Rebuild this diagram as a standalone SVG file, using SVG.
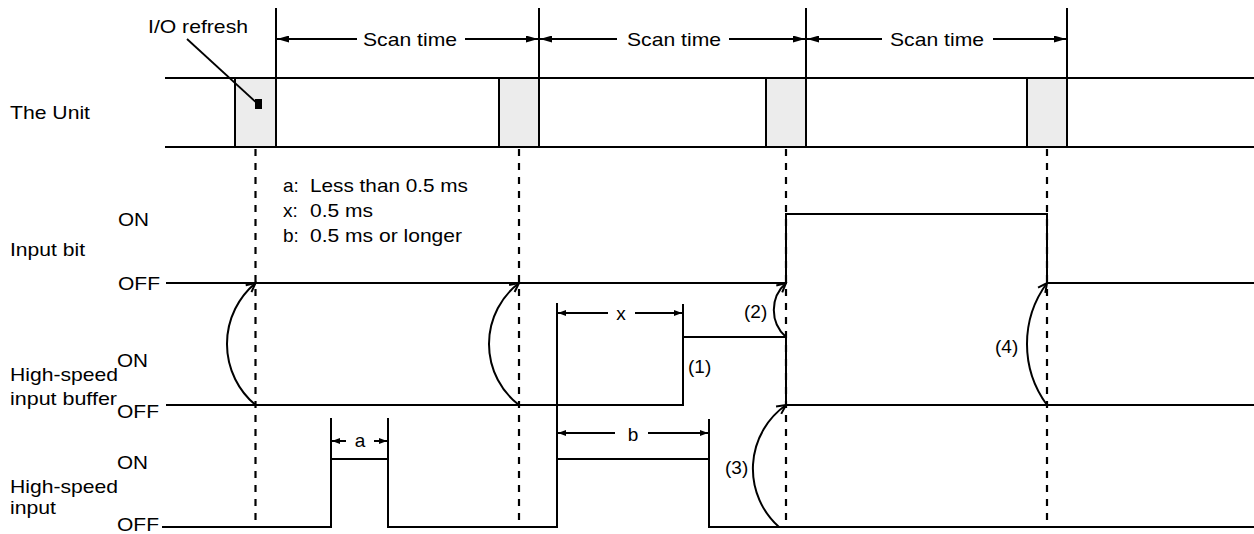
<svg xmlns="http://www.w3.org/2000/svg" width="1254" height="534" viewBox="0 0 1254 534">
<style>
.ln{stroke:#000;stroke-width:2;fill:none}
.thin{stroke:#000;stroke-width:1.8;fill:none}
.dash{stroke:#000;stroke-width:2.2;stroke-dasharray:7 7;fill:none}
.box{fill:#ececec;stroke:#000;stroke-width:2}
text{font-family:"Liberation Sans",Arial,Helvetica,sans-serif;font-size:19px;fill:#000}
.m{text-anchor:middle}
</style>
<defs>
<marker id="fa" viewBox="0 0 12 7" refX="12" refY="3.5" markerWidth="12" markerHeight="7" markerUnits="userSpaceOnUse" orient="auto-start-reverse"><path d="M0,0 L12,3.5 L0,7 z" fill="#000"/></marker>
<marker id="fs" viewBox="0 0 8 6" refX="8" refY="3" markerWidth="8" markerHeight="6" markerUnits="userSpaceOnUse" orient="auto-start-reverse"><path d="M0,0 L8,3 L0,6 z" fill="#000"/></marker>
<marker id="oa" viewBox="-11 -6 13 12" refX="0" refY="0" markerWidth="13" markerHeight="12" markerUnits="userSpaceOnUse" orient="auto"><path d="M-9,-4.5 L0,0 L-9,4.5" fill="none" stroke="#000" stroke-width="2"/></marker>
</defs>

<g id="unit-row">
<line class="ln" x1="165" y1="78" x2="1254" y2="78"/>
<line class="ln" x1="165" y1="147" x2="1254" y2="147"/>
<rect class="box" x="235" y="78" width="41" height="69"/>
<rect class="box" x="499" y="78" width="40" height="69"/>
<rect class="box" x="766" y="78" width="40" height="69"/>
<rect class="box" x="1027" y="78" width="40" height="69"/>
<line class="ln" x1="276" y1="8" x2="276" y2="147"/>
<line class="ln" x1="539" y1="8" x2="539" y2="147"/>
<line class="ln" x1="806" y1="8" x2="806" y2="147"/>
<line class="ln" x1="1067" y1="8" x2="1067" y2="147"/>
<text x="10" y="119" textLength="80" lengthAdjust="spacingAndGlyphs">The Unit</text>
</g>

<g id="io-refresh-label">
<text x="148" y="33" textLength="100" lengthAdjust="spacingAndGlyphs">I/O refresh</text>
<line class="thin" x1="187" y1="39" x2="258" y2="104"/>
<rect x="255" y="99" width="7" height="10" fill="#000"/>
</g>

<g id="scan-times">
<line class="ln" x1="277" y1="39" x2="357" y2="39" marker-start="url(#fa)"/>
<line class="ln" x1="465" y1="39" x2="538" y2="39" marker-end="url(#fa)"/>
<text x="363" y="46" textLength="94" lengthAdjust="spacingAndGlyphs">Scan time</text>
<line class="ln" x1="540" y1="39" x2="617" y2="39" marker-start="url(#fa)"/>
<line class="ln" x1="729" y1="39" x2="805" y2="39" marker-end="url(#fa)"/>
<text x="627" y="46" textLength="94" lengthAdjust="spacingAndGlyphs">Scan time</text>
<line class="ln" x1="807" y1="39" x2="882" y2="39" marker-start="url(#fa)"/>
<line class="ln" x1="993" y1="39" x2="1066" y2="39" marker-end="url(#fa)"/>
<text x="890" y="46" textLength="94" lengthAdjust="spacingAndGlyphs">Scan time</text>
</g>

<g id="refresh-dashes">
<line class="dash" x1="255.5" y1="149" x2="255.5" y2="527"/>
<line class="dash" x1="519" y1="149" x2="519" y2="527"/>
<line class="dash" x1="786" y1="149" x2="786" y2="527"/>
<line class="dash" x1="1047" y1="149" x2="1047" y2="527"/>
</g>

<g id="legend">
<text y="192"><tspan x="283">a:</tspan><tspan x="310" textLength="158" lengthAdjust="spacingAndGlyphs">Less than 0.5 ms</tspan></text>
<text y="217"><tspan x="283">x:</tspan><tspan x="310" textLength="63" lengthAdjust="spacingAndGlyphs">0.5 ms</tspan></text>
<text y="242"><tspan x="283">b:</tspan><tspan x="310" textLength="152" lengthAdjust="spacingAndGlyphs">0.5 ms or longer</tspan></text>
</g>

<g id="input-bit">
<text x="118" y="226" textLength="31" lengthAdjust="spacingAndGlyphs">ON</text>
<text x="10" y="256" textLength="75" lengthAdjust="spacingAndGlyphs">Input bit</text>
<text x="118" y="290" textLength="42" lengthAdjust="spacingAndGlyphs">OFF</text>
<polyline class="ln" points="166,283 786,283 786,214 1047,214 1047,283 1254,283"/>
</g>

<g id="input-buffer">
<text x="117" y="367" textLength="31" lengthAdjust="spacingAndGlyphs">ON</text>
<text x="10" y="381" textLength="108" lengthAdjust="spacingAndGlyphs">High-speed</text>
<text x="10" y="405" textLength="107" lengthAdjust="spacingAndGlyphs">input buffer</text>
<text x="117" y="418" textLength="42" lengthAdjust="spacingAndGlyphs">OFF</text>
<polyline class="ln" points="166,405 683,405 683,337 786,337 786,405 1254,405"/>
</g>

<g id="high-speed-input">
<text x="117" y="469" textLength="31" lengthAdjust="spacingAndGlyphs">ON</text>
<text x="10" y="493" textLength="108" lengthAdjust="spacingAndGlyphs">High-speed</text>
<text x="10" y="514" textLength="46" lengthAdjust="spacingAndGlyphs">input</text>
<text x="117" y="531" textLength="42" lengthAdjust="spacingAndGlyphs">OFF</text>
<polyline class="ln" points="162,527 331,527 331,459 388,459 388,527 557,527 557,459 709,459 709,527 1254,527"/>
</g>

<g id="dimensions">
<line class="ln" x1="331" y1="418" x2="331" y2="459"/>
<line class="ln" x1="388" y1="418" x2="388" y2="459"/>
<line class="ln" x1="332" y1="441" x2="346" y2="441" marker-start="url(#fs)"/>
<line class="ln" x1="374" y1="441" x2="387" y2="441" marker-end="url(#fs)"/>
<text class="m" x="360" y="447">a</text>
<line class="ln" x1="557" y1="303" x2="557" y2="459"/>
<line class="ln" x1="709" y1="419" x2="709" y2="459"/>
<line class="ln" x1="558" y1="433" x2="615" y2="433" marker-start="url(#fs)"/>
<line class="ln" x1="648" y1="433" x2="708" y2="433" marker-end="url(#fs)"/>
<text class="m" x="633" y="441">b</text>
<line class="ln" x1="683" y1="304" x2="683" y2="337"/>
<line class="ln" x1="558" y1="313" x2="608" y2="313" marker-start="url(#fs)"/>
<line class="ln" x1="635" y1="313" x2="682" y2="313" marker-end="url(#fs)"/>
<text class="m" x="621" y="320">x</text>
</g>

<g id="connectors">
<path class="ln" d="M255.5,405 A79.5,79.5 0 0 1 255.5,283" marker-end="url(#oa)"/>
<path class="ln" d="M519,405 A77,77 0 0 1 519,283" marker-end="url(#oa)"/>
<path class="ln" d="M786,337 A36,36 0 0 1 786,283" marker-end="url(#oa)"/>
<path class="ln" d="M779,527 A78,78 0 0 1 786,405" marker-end="url(#oa)"/>
<path class="ln" d="M1047,405 A103,103 0 0 1 1047,283" marker-end="url(#oa)"/>
<text x="688" y="373">(1)</text>
<text x="744" y="318">(2)</text>
<text x="725" y="474">(3)</text>
<text x="995" y="353">(4)</text>
</g>
</svg>
